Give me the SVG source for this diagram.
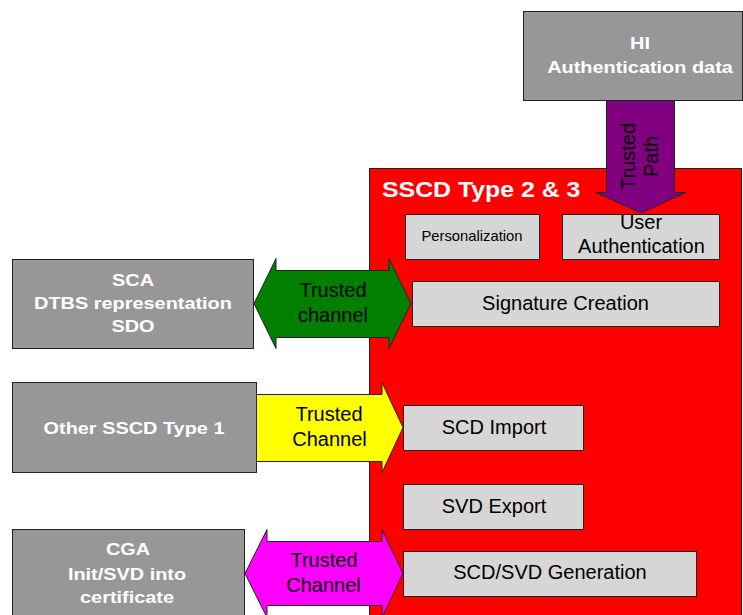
<svg xmlns="http://www.w3.org/2000/svg" width="743" height="615" viewBox="0 0 743 615">
<style>
.ext{fill:#979797;stroke:#222;stroke-width:1}
.inner{fill:#d6d6d6;stroke:#222;stroke-width:1}
.bt{font-family:"Liberation Sans",Arial,sans-serif;font-weight:bold;font-size:17px;fill:#fff;text-anchor:middle}
.rt{font-family:"Liberation Sans",Arial,sans-serif;font-size:20px;fill:#000;text-anchor:middle}
.small{font-size:14.8px}
.arrow{stroke:#222;stroke-width:1;stroke-linejoin:miter}
</style>
<rect width="743" height="615" fill="#fff"/>
<g id="sscd">
<rect x="369.5" y="168.5" width="372" height="460" fill="#ff0000" stroke="#222"/>
<text transform="translate(382,197) scale(1.13,1)" font-family="Liberation Sans,Arial,sans-serif" font-weight="bold" font-size="22" fill="#fff">SSCD Type 2 &amp; 3</text>
</g>
<g id="hi">
<rect class="ext" x="523.5" y="11.5" width="219" height="89"/>
<text class="bt" transform="translate(640,49) scale(1.17,1)">HI</text>
<text class="bt" transform="translate(640,73) scale(1.17,1)">Authentication data</text>
</g>
<g id="sca">
<rect class="ext" x="12.5" y="259.5" width="241" height="89"/>
<text class="bt" transform="translate(133,286) scale(1.17,1)">SCA</text>
<text class="bt" transform="translate(133,309) scale(1.17,1)">DTBS representation</text>
<text class="bt" transform="translate(133,332) scale(1.17,1)">SDO</text>
</g>
<g id="other">
<rect class="ext" x="12.5" y="382.5" width="244" height="90"/>
<text class="bt" transform="translate(134,434) scale(1.17,1)">Other SSCD Type 1</text>
</g>
<g id="cga">
<rect class="ext" x="12.5" y="529.5" width="232" height="100"/>
<text class="bt" transform="translate(128,555) scale(1.17,1)">CGA</text>
<text class="bt" transform="translate(127,580) scale(1.17,1)">Init/SVD into</text>
<text class="bt" transform="translate(127,603) scale(1.17,1)">certificate</text>
</g>
<g id="connectors">
<polygon class="arrow" fill="#007f00" points="254,303.5 276,258.5 276,270.5 389,270.5 389,258.5 411,303.5 389,348.5 389,337.5 276,337.5 276,348.5"/>
<text class="rt" x="333" y="297">Trusted</text>
<text class="rt" x="333" y="322">channel</text>
<polygon class="arrow" fill="#ffff00" points="256.5,394.5 382,394.5 382,382.5 403,427.5 382,472.5 382,461.5 256.5,461.5"/>
<text class="rt" x="329" y="421">Trusted</text>
<text class="rt" x="329.5" y="446">Channel</text>
<polygon class="arrow" fill="#ff00ff" points="245,573.5 267,529.5 267,541.5 382,541.5 382,529.5 403,573.5 382,617.5 382,605.5 267,605.5 267,617.5"/>
<text class="rt" x="324" y="567">Trusted</text>
<text class="rt" x="323.5" y="592">Channel</text>
<polygon class="arrow" fill="#800080" points="606.5,100.5 674.5,100.5 674.5,192.5 686,192.5 641,213 596,192.5 606.5,192.5"/>
<text class="rt" transform="translate(635,156.5) rotate(-90)">Trusted</text>
<text class="rt" transform="translate(658,156.5) rotate(-90)">Path</text>
</g>
<g id="personalization">
<rect class="inner" x="405.5" y="214.5" width="134" height="45"/>
<text class="rt small" x="472" y="241">Personalization</text>
</g>
<g id="userauth">
<rect class="inner" x="562.5" y="214.5" width="157" height="45"/>
<text class="rt" x="641" y="229">User</text>
<text class="rt" x="641.5" y="253">Authentication</text>
</g>
<g id="sigcreation">
<rect class="inner" x="412.5" y="281.5" width="307" height="45"/>
<text class="rt" x="565.5" y="310">Signature Creation</text>
</g>
<g id="scdimport">
<rect class="inner" x="403.5" y="405.5" width="180" height="45"/>
<text class="rt" x="494" y="434">SCD Import</text>
</g>
<g id="svdexport">
<rect class="inner" x="403.5" y="484.5" width="180" height="45"/>
<text class="rt" x="494" y="513">SVD Export</text>
</g>
<g id="scdgen">
<rect class="inner" x="403.5" y="551.5" width="293" height="45"/>
<text class="rt" x="550" y="579">SCD/SVD Generation</text>
</g>
</svg>
